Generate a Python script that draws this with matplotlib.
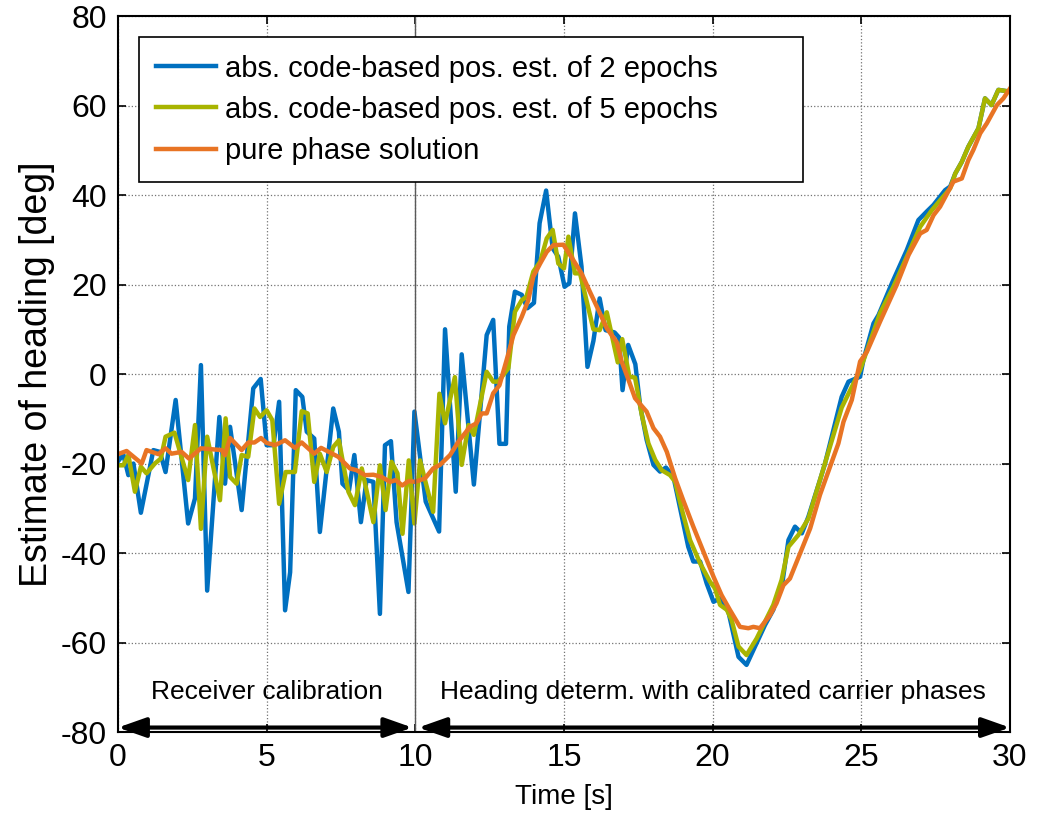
import matplotlib
matplotlib.use("Agg")
import matplotlib.pyplot as plt

plt.rcParams["font.family"] = ["Liberation Sans", "DejaVu Sans"]
plt.rcParams["axes.unicode_minus"] = False

# time [s] and heading [deg]
t_code2 = [0.0, 0.18, 0.35, 0.52, 0.77, 1.19, 1.41, 1.60, 1.94, 2.36, 2.59, 2.79, 3.0, 3.41, 3.6,
           3.77, 4.16, 4.55, 4.80, 5.0, 5.23, 5.42, 5.62, 5.79, 5.98, 6.20, 6.35, 6.60, 6.79, 7.24,
           7.43, 7.55, 7.77, 7.95, 8.17, 8.36, 8.59, 8.81, 8.98, 9.18, 9.37, 9.77, 9.97, 10.35,
           10.8, 11.0, 11.36, 11.56, 11.97, 12.40, 12.62, 12.83, 13.05, 13.16, 13.35, 13.58, 13.77,
           13.99, 14.18, 14.40, 14.62, 14.81, 15.02, 15.18, 15.37, 15.59, 15.79, 15.99, 16.20,
           16.40, 16.70, 16.85, 16.97, 17.16, 17.40, 17.56, 17.78, 18.01, 18.23, 18.43, 18.68,
           19.18, 19.35, 19.58, 19.80, 20.03, 20.25, 20.53, 20.87, 21.14, 21.76, 22.04, 22.36,
           22.55, 22.77, 23.0, 23.22, 23.61, 23.78, 24.34, 24.57, 24.96, 25.07, 25.41, 25.58,
           26.03, 26.53, 26.92, 27.20, 27.43, 27.82, 27.99, 28.16, 28.38, 28.60, 28.94, 29.16,
           29.38, 29.61, 30.0]
h_code2 = [-19.5, -18.0, -22.6, -20.0, -31.0, -17.0, -17.4, -21.9, -5.8, -33.4, -27.8, 2.0, -48.4,
           -9.6, -24.5, -11.8, -30.4, -3.2, -1.1, -15.9, -15.9, -6.2, -52.8, -44.3, -3.6, -5.1,
           -12.9, -14.4, -35.3, -7.7, -12.9, -24.5, -26.0, -18.1, -33.1, -23.7, -24.1, -53.6,
           -15.9, -15.0, -33.1, -48.7, -8.4, -28.5, -35.2, 10.0, -26.3, 4.4, -24.7, 8.7, 12.1,
           -15.6, -15.6, 10.6, 18.4, 17.7, 14.7, 15.9, 33.7, 41.0, 28.1, 26.2, 19.5, 20.3, 35.9,
           24.0, 1.6, 7.4, 16.9, 9.8, 9.3, 8.2, -3.6, 6.5, 2.2, -7.0, -14.7, -20.3, -21.8, -20.9,
           -22.9, -38.6, -41.9, -41.9, -46.8, -50.9, -50.1, -53.1, -63.2, -65.0, -56.1, -52.7,
           -46.0, -37.1, -34.1, -35.6, -31.9, -23.7, -20.0, -5.1, -1.7, -0.6, 3.1, 11.3, 13.2,
           20.3, 27.7, 34.4, 36.3, 37.8, 41.1, 41.9, 44.8, 47.4, 50.8, 54.9, 61.6, 60.1, 63.5,
           63.1]

t_code5 = [0.0, 0.18, 0.35, 0.57, 0.77, 0.96, 1.24, 1.44, 1.60, 1.90, 2.36, 2.59, 2.79, 3.0, 3.43,
           3.62, 3.77, 3.99, 4.16, 4.38, 4.59, 4.78, 5.0, 5.19, 5.42, 5.64, 5.95, 6.18, 6.38, 6.60,
           6.79, 7.02, 7.24, 7.43, 7.75, 7.97, 8.20, 8.59, 8.81, 9.0, 9.20, 9.40, 9.57, 9.78, 9.97,
           10.16, 10.6, 10.81, 11.0, 11.33, 11.56, 11.79, 11.97, 12.40, 12.62, 12.79, 13.13, 13.35,
           13.58, 13.74, 13.97, 14.20, 14.42, 14.62, 14.81, 15.0, 15.15, 15.37, 15.54, 15.99,
           16.20, 16.44, 16.81, 16.96, 17.20, 17.39, 17.62, 17.84, 18.07, 18.29, 18.57, 18.74,
           18.97, 19.24, 19.58, 19.91, 20.08, 20.25, 20.48, 20.64, 20.87, 21.14, 21.48, 22.04,
           22.32, 22.55, 22.88, 23.22, 23.61, 24.34, 24.96, 25.63, 26.08, 26.98, 27.37, 27.99,
           28.16, 28.38, 28.60, 28.94, 29.16, 29.38, 29.61, 30.0]
h_code5 = [-20.4, -20.4, -18.1, -26.3, -20.7, -22.2, -20.0, -18.9, -14.0, -13.1, -23.7, -11.4,
           -34.6, -14.0, -28.2, -9.9, -23.0, -24.5, -18.1, -18.5, -7.7, -9.6, -8.1, -10.3, -29.0,
           -21.9, -21.9, -8.3, -8.8, -24.1, -17.8, -21.9, -16.3, -14.8, -26.3, -29.3, -21.1,
           -33.1, -20.4, -30.4, -19.6, -22.2, -35.7, -19.3, -33.4, -19.3, -30.8, -4.4, -11.0,
           -0.7, -20.3, -11.4, -13.6, 0.5, -1.7, -1.7, 1.3, 13.9, 16.5, 17.3, 22.9, 25.1, 30.3,
           32.2, 24.7, 23.6, 30.7, 22.5, 22.5, 10.0, 9.8, 13.8, 2.6, 7.8, -0.6, -0.8, -9.2, -15.5,
           -19.2, -21.5, -22.6, -24.1, -30.4, -37.1, -42.3, -46.4, -47.9, -51.6, -52.7, -55.0,
           -60.9, -62.8, -59.1, -51.6, -46.0, -38.6, -36.0, -32.3, -23.7, -7.5, 0.9, 13.6, 19.5,
           32.9, 36.6, 41.5, 44.8, 47.4, 50.8, 54.9, 61.6, 60.1, 63.5, 63.1]

t_phase = [0.0, 0.29, 0.80, 0.96, 1.36, 1.60, 1.80, 2.14, 2.39, 2.79, 3.49, 3.60, 3.77, 4.16, 4.38,
           4.59, 4.81, 5.0, 5.28, 5.62, 5.95, 6.18, 6.60, 6.83, 7.41, 7.80, 8.03, 8.31, 8.59, 8.87,
           9.15, 9.34, 9.56, 9.78, 10.0, 10.33, 10.6, 10.83, 11.17, 11.45, 11.84, 12.06, 12.23,
           12.40, 12.62, 12.83, 13.07, 13.30, 13.58, 13.80, 13.97, 14.20, 14.42, 14.64, 14.98,
           15.31, 15.59, 15.87, 16.16, 16.44, 16.77, 16.94, 17.17, 17.39, 17.78, 18.01, 18.23,
           18.46, 18.74, 19.01, 19.35, 19.69, 20.03, 20.30, 20.58, 20.92, 21.20, 21.37, 21.59,
           21.93, 22.15, 22.38, 22.60, 22.94, 23.28, 23.61, 24.23, 24.40, 24.68, 24.96, 25.19,
           25.63, 26.19, 26.59, 26.98, 27.20, 27.43, 27.65, 28.10, 28.38, 28.60, 28.77, 29.0,
           29.22, 29.56, 29.78, 30.0]
h_phase = [-17.9, -17.2, -20.0, -17.0, -17.9, -16.6, -17.8, -17.4, -18.9, -16.6, -17.0, -18.1,
           -14.3, -17.0, -15.3, -15.3, -14.3, -15.4, -15.9, -14.8, -16.5, -15.3, -17.8, -16.5,
           -18.5, -21.1, -21.5, -22.6, -22.5, -23.0, -24.1, -23.7, -24.9, -23.9, -24.1, -23.3,
           -21.1, -20.3, -18.1, -15.1, -11.8, -11.0, -8.8, -8.8, -4.3, -2.5, 3.1, 8.7, 12.8, 16.5,
           21.8, 24.7, 27.3, 28.8, 28.9, 25.5, 22.5, 18.4, 14.3, 10.2, 7.2, 2.8, -1.3, -5.4, -8.4,
           -12.1, -14.0, -17.4, -23.3, -28.2, -34.1, -39.7, -45.3, -49.4, -52.7, -56.5, -56.8,
           -56.5, -56.8, -53.9, -51.2, -47.2, -45.7, -40.1, -34.5, -27.0, -15.5, -10.7, -5.8, 2.8,
           5.0, 11.7, 19.9, 26.6, 31.4, 32.2, 35.5, 37.4, 43.0, 43.7, 47.8, 50.1, 53.8, 56.0,
           60.1, 61.6, 63.8]

labels = ["abs. code-based pos. est. of 2 epochs",
          "abs. code-based pos. est. of 5 epochs",
          "pure phase solution"]
colors = ["#0070C0", "#A8B400", "#E87424"]

x_ticks = [0, 5, 10, 15, 20, 25, 30]
y_ticks = [-80, -60, -40, -20, 0, 20, 40, 60, 80]
phase_split = 10
arrow_y = -79
section_y = -71

fig = plt.figure(figsize=(10.44, 8.18), dpi=100)
ax = fig.add_axes([0.113, 0.1051, 0.8544, 0.8753])

ax.plot(t_code2, h_code2, color=colors[0], lw=3.2, label=labels[0])
ax.plot(t_code5, h_code5, color=colors[1], lw=3.2, label=labels[1])
ax.plot(t_phase, h_phase, color=colors[2], lw=3.2, label=labels[2])

ax.set_xlim(0, 30)
ax.set_ylim(-80, 80)
ax.set_xticks(x_ticks)
ax.set_yticks(y_ticks)
ax.grid(True, linestyle=":", color="0.45", lw=0.9)
ax.axvline(phase_split, color="0.35", lw=1.0)

ax.tick_params(direction="in", top=True, right=True, length=6, width=1.2,
               labelsize=23, pad=8)
for spine in ax.spines.values():
    spine.set_linewidth(1.5)

ax.set_xlabel("Time [s]", fontsize=20, labelpad=8)
ax.set_ylabel("Estimate of heading [deg]", fontsize=27, labelpad=4)

# section arrows along the bottom
arrow_props = dict(arrowstyle="<|-|>,head_length=1.7,head_width=0.6",
                   color="black", lw=3, shrinkA=0, shrinkB=0)
ax.annotate("", xy=(0, arrow_y), xytext=(9.9, arrow_y), arrowprops=arrow_props)
ax.annotate("", xy=(10.1, arrow_y), xytext=(30, arrow_y), arrowprops=arrow_props)
ax.text(5, section_y, "Receiver calibration", ha="center", va="center", fontsize=19)
ax.text(20, section_y, "Heading determ. with calibrated carrier phases",
        ha="center", va="center", fontsize=19)

leg_h = 0.1885
leg = ax.legend(loc="upper left", bbox_to_anchor=(0.0235, 0.9707 - leg_h, 0.7445, leg_h),
                mode="expand", borderaxespad=0, fontsize=21, handlelength=2.05,
                handletextpad=0.3, labelspacing=0.45, borderpad=0.6, fancybox=False,
                framealpha=1, edgecolor="black")
leg.get_frame().set_linewidth(1.2)
for line in leg.get_lines():
    line.set_linewidth(3.2)

fig.savefig("out.png", dpi=100)
